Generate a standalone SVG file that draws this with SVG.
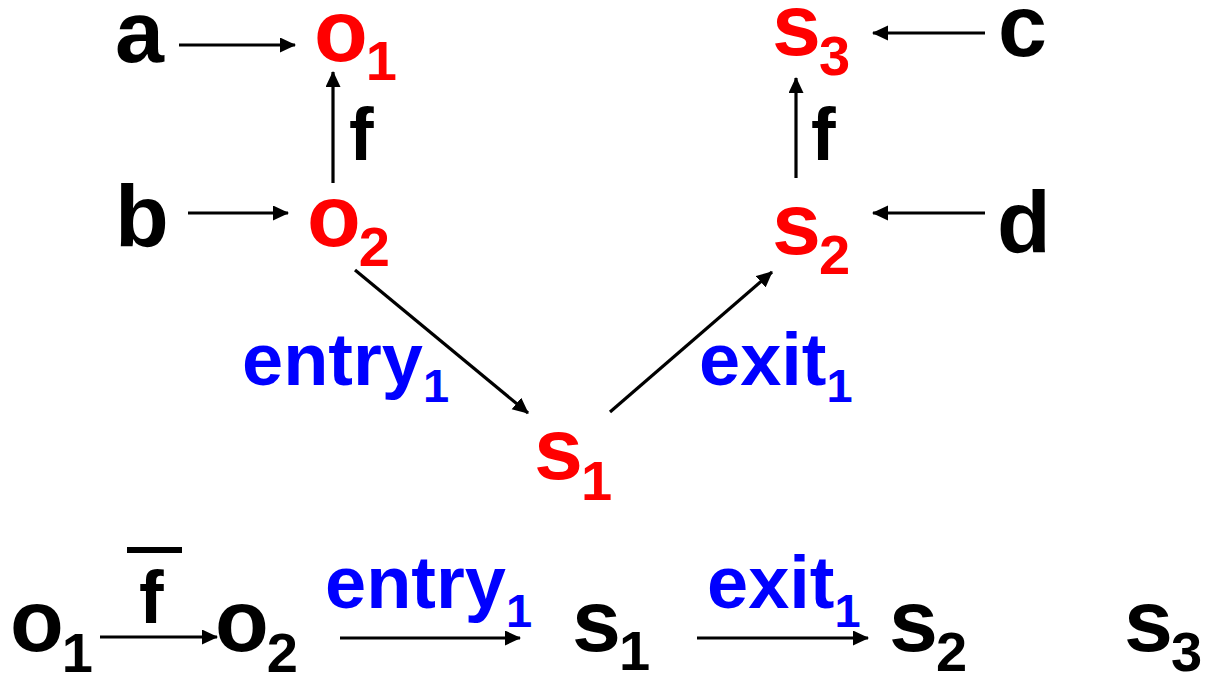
<svg xmlns="http://www.w3.org/2000/svg" width="1212" height="676" viewBox="0 0 1212 676">
<style>
text{font-family:"Liberation Sans",Arial,sans-serif;font-weight:bold}
.m{font-size:88px}
.l{font-size:74px}
.sub{font-size:56px}
.lsub{font-size:47px}
.red{fill:#FF0000}
.blue{fill:#0000FF}
.blk{fill:#000000}
.c line{stroke:#000;stroke-width:3.2;marker-end:url(#ah)}
</style>
<defs>
<marker id="ah" markerUnits="userSpaceOnUse" markerWidth="17" markerHeight="16" refX="15" refY="7.5" orient="auto">
<path d="M0,0 L16,7.5 L0,15 z" fill="#000"/>
</marker>
</defs>
<rect width="1212" height="676" fill="#fff"/>
<g id="a"><text class="m blk" x="115" y="62">a</text></g>
<g id="b"><text class="m blk" x="115" y="246">b</text></g>
<g id="c"><text class="m blk" x="998" y="56">c</text></g>
<g id="d"><text class="m blk" x="997" y="252">d</text></g>
<g id="o1"><text class="m red" x="314" y="61">o<tspan class="sub" dy="19" dx="-2">1</tspan></text></g>
<g id="o2"><text class="m red" x="307" y="246">o<tspan class="sub" dy="20" dx="-2">2</tspan></text></g>
<g id="s3"><text class="m red" x="772" y="55">s<tspan class="sub" dy="20" dx="-2">3</tspan></text></g>
<g id="s2"><text class="m red" x="772" y="254">s<tspan class="sub" dy="20" dx="-2">2</tspan></text></g>
<g id="s1"><text class="m red" x="534" y="479">s<tspan class="sub" dy="21" dx="-2">1</tspan></text></g>
<g id="labels">
<text class="l blk" x="349" y="160">f</text>
<text class="l blk" x="811" y="160">f</text>
<text class="l blue" x="242" y="385">entry<tspan class="lsub" dy="17">1</tspan></text>
<text class="l blue" x="699" y="385">exit<tspan class="lsub" dy="17">1</tspan></text>
</g>
<g id="bottom">
<g id="b-o1"><text class="m blk" x="10" y="651">o<tspan class="sub" dy="21" dx="-2">1</tspan></text></g>
<g id="b-o2"><text class="m blk" x="215" y="651">o<tspan class="sub" dy="21" dx="-2">2</tspan></text></g>
<g id="b-s1"><text class="m blk" x="572" y="651">s<tspan class="sub" dy="19" dx="-2">1</tspan></text></g>
<g id="b-s2"><text class="m blk" x="889" y="651">s<tspan class="sub" dy="20" dx="-2">2</tspan></text></g>
<g id="b-s3"><text class="m blk" x="1124" y="651">s<tspan class="sub" dy="20" dx="-2">3</tspan></text></g>
<g id="b-f"><rect x="127" y="547" width="55" height="6" fill="#000"/><text class="l blk" x="139" y="623">f</text></g>
<text class="l blue" x="325" y="608">entry<tspan class="lsub" dy="19">1</tspan></text>
<text class="l blue" x="707" y="608">exit<tspan class="lsub" dy="19">1</tspan></text>
</g>
<g id="connectors" class="c">
<line x1="179" y1="45" x2="295" y2="45"/>
<line x1="188" y1="213" x2="288" y2="213"/>
<line x1="333" y1="183" x2="333" y2="72"/>
<line x1="985" y1="33" x2="873" y2="33"/>
<line x1="985" y1="213" x2="873" y2="213"/>
<line x1="796" y1="178" x2="796" y2="78"/>
<line x1="355" y1="270" x2="528" y2="413"/>
<line x1="610" y1="412" x2="772" y2="272"/>
<line x1="100" y1="637" x2="217" y2="637"/>
<line x1="340" y1="638" x2="520" y2="638"/>
<line x1="697" y1="638" x2="868" y2="638"/>
</g>
</svg>
